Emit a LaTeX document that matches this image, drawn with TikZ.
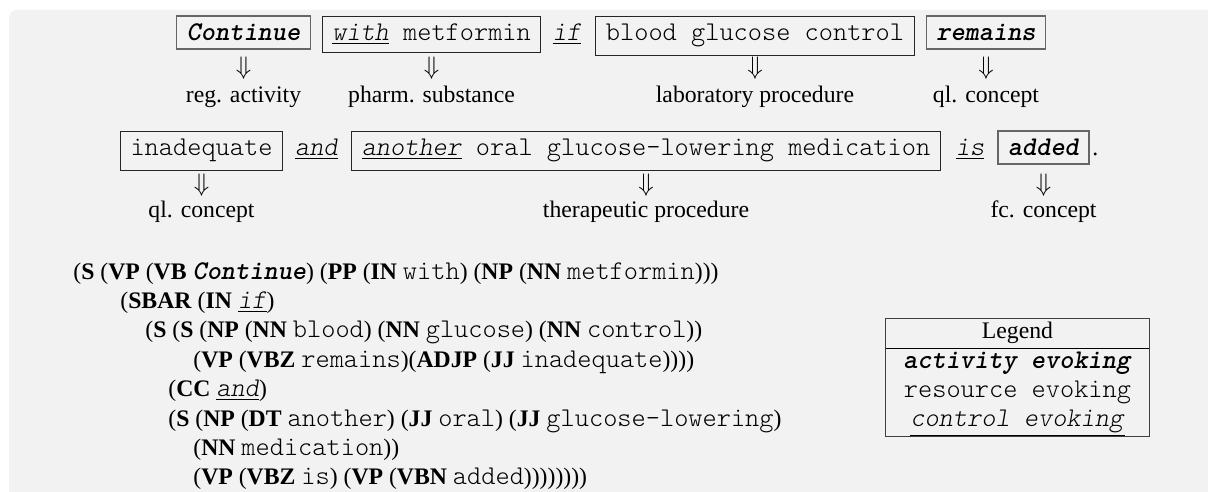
\documentclass[tikz,border=0pt]{standalone}
\usepackage{fontspec}
\setmainfont{Liberation Serif}
\setmonofont[Scale=1.14,Extension=.otf,UprightFont=lmmonolt10-regular,BoldFont=lmmonolt10-bold,ItalicFont=lmmonolt10-oblique,BoldItalicFont=lmmonolt10-boldoblique]{lmmonolt10}
\definecolor{panelgray}{HTML}{F2F2F2}
\newcommand{\actw}[1]{\texttt{\textbf{\textit{#1}}}}
\newcommand{\ctlw}[1]{\underline{\texttt{\textit{#1}}}}

\begin{document}
\begin{tikzpicture}[x=0.02cm,y=-0.02cm,
    every node/.style={font=\fontsize{13.5}{16.5}\selectfont},
    wordbox/.style={draw=black!85,line width=0.6pt,inner xsep=5.7pt,inner ysep=4.5pt,text height=9.7pt,anchor=base},
    actbox/.style={wordbox,draw=black!60,line width=0.9pt},
    bare/.style={inner sep=0pt,anchor=base},
    treeline/.style={inner sep=0pt,anchor=base west}]
    \useasboundingbox (0,0) rectangle (1208,492);
    \begin{scope}
        \clip (0,0) rectangle (1208,492);
        \fill[panelgray,rounded corners=4.5pt] (9,10) rectangle (1240,530);
    \end{scope}

    % first line of the sentence
    \node[actbox] (Cont) at (243.5,41) {\actw{Continue}};
    \node[wordbox] (With) at (431.5,41) {\ttfamily\ctlw{with} metformin};
    \node[bare] (If) at (567,41) {\ctlw{if}};
    \node[wordbox] (Blood) at (755,41) {\ttfamily blood glucose control};
    \node[actbox] (Rem) at (986,41) {\actw{remains}};

    \node (dCont) at (243.5,68) {$\Downarrow$};
    \node (dWith) at (431.5,68) {$\Downarrow$};
    \node (dBlood) at (755,68) {$\Downarrow$};
    \node (dRem) at (986,68) {$\Downarrow$};

    \node[bare] (lCont) at (243.5,103) {reg. activity};
    \node[bare] (lWith) at (431.5,103) {pharm. substance};
    \node[bare] (lBlood) at (755,103) {laboratory procedure};
    \node[bare] (lRem) at (986,103) {ql. concept};

    % second line of the sentence
    \node[wordbox] (Inad) at (201.5,156) {\ttfamily inadequate};
    \node[bare] (And) at (316.5,156) {\ctlw{and}};
    \node[wordbox] (Anoth) at (646,156) {\ttfamily\ctlw{another} oral glucose-lowering medication};
    \node[bare] (Is) at (970,156) {\ctlw{is}};
    \node[actbox] (Add) at (1043.5,156) {\actw{added}};
    \node[bare,anchor=base west] (Stop) at (1092,156) {.};

    \node (dInad) at (201.5,185) {$\Downarrow$};
    \node (dAnoth) at (646,185) {$\Downarrow$};
    \node (dAdd) at (1043.5,185) {$\Downarrow$};

    \node[bare] (lInad) at (201.5,218) {ql. concept};
    \node[bare] (lAnoth) at (646,218) {therapeutic procedure};
    \node[bare] (lAdd) at (1043.5,218) {fc. concept};

    % parse tree
    \node[treeline] (t1) at (73,280) {(\textbf{S} (\textbf{VP} (\textbf{VB} \actw{Continue}) (\textbf{PP} (\textbf{IN} \texttt{with}) (\textbf{NP} (\textbf{NN} \texttt{metformin})))};
    \node[treeline] (t2) at (120,309) {(\textbf{SBAR} (\textbf{IN} \ctlw{if})};
    \node[treeline] (t3) at (145,338) {(\textbf{S} (\textbf{S} (\textbf{NP} (\textbf{NN} \texttt{blood}) (\textbf{NN} \texttt{glucose}) (\textbf{NN} \texttt{control}))};
    \node[treeline] (t4) at (193,368) {(\textbf{VP} (\textbf{VBZ} \texttt{remains})(\textbf{ADJP} (\textbf{JJ} \texttt{inadequate}))))};
    \node[treeline] (t5) at (168,397) {(\textbf{CC} \ctlw{and})};
    \node[treeline] (t6) at (168,427) {(\textbf{S} (\textbf{NP} (\textbf{DT} \texttt{another}) (\textbf{JJ} \texttt{oral}) (\textbf{JJ} \texttt{glucose-lowering})};
    \node[treeline] (t7) at (193,456) {(\textbf{NN} \texttt{medication}))};
    \node[treeline] (t8) at (193,485) {(\textbf{VP} (\textbf{VBZ} \texttt{is}) (\textbf{VP} (\textbf{VBN} \texttt{added}))))))))};

    % legend
    \node[draw=black!75,line width=0.7pt,inner sep=0pt,anchor=north west] (Leg) at (885,318)
        {\begin{tabular}{@{\hspace{10pt}}c@{\hspace{10pt}}}
            Legend\\ \hline
            \actw{activity evoking}\\
            \texttt{resource evoking}\\
            \ctlw{control evoking}
        \end{tabular}};
\end{tikzpicture}
\end{document}
